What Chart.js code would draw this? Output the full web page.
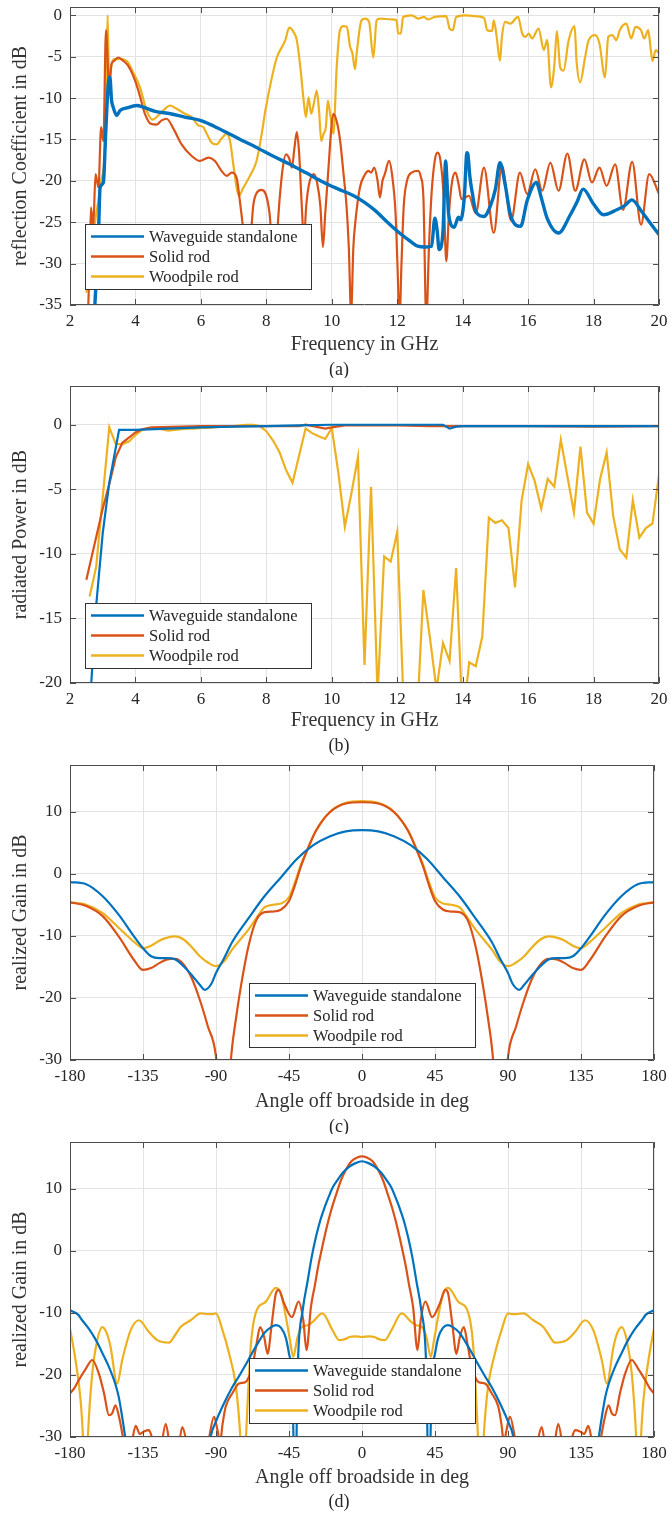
<!DOCTYPE html>
<html>
<head>
<meta charset="utf-8">
<script src="https://cdn.jsdelivr.net/npm/chart.js@4.4.0/dist/chart.umd.min.js"></script>
<style>
  body { margin: 0; background: #fff; width: 668px; }
  canvas { display: block; }
</style>
</head>
<body>
<canvas id="chartA" width="668" height="378"></canvas>
<canvas id="chartB" width="668" height="378"></canvas>
<canvas id="chartC" width="668" height="378"></canvas>
<canvas id="chartD" width="668" height="379"></canvas>
<script>
const seriesNames = ["Waveguide standalone", "Solid rod", "Woodpile rod"];

// tick labels
const freqTicks = [2, 4, 6, 8, 10, 12, 14, 16, 18, 20];
const reflTicks = [-35, -30, -25, -20, -15, -10, -5, 0];
const powerTicks = [-20, -15, -10, -5, 0];
const angleTicks = [-180, -135, -90, -45, 0, 45, 90, 135, 180];
const gainTicks = [-30, -20, -10, 0, 10];

/* ------------------------------
   (a) reflection coefficient, [GHz, dB]
------------------------------- */
const reflWaveguide = [[2.7,-40],[2.76,-35],[2.87,-26.5],[2.92,-20.8],[3.02,-20.2],[3.09,-14.3],[3.17,-8.3],[3.22,-7.5],[3.27,-10.3],[3.32,-11.1],[3.43,-12.1],[3.53,-11.5],[3.73,-11.2],[4.04,-10.9],[4.24,-11.1],[4.6,-11.6],[5.07,-11.9],[5.5,-12.3],[5.98,-12.7],[6.4,-13.4],[6.76,-14.1],[7.2,-15.0],[7.67,-15.9],[8.2,-17.0],[8.72,-18.0],[9.2,-19.0],[9.76,-20.2],[10.2,-21.0],[10.67,-21.8],[11.0,-22.6],[11.33,-23.6],[11.7,-25.0],[12.1,-26.4],[12.4,-27.3],[12.63,-27.9],[12.85,-28.0],[13.05,-27.9],[13.15,-24.5],[13.22,-26],[13.28,-28.3],[13.4,-26],[13.48,-17.6],[13.52,-20],[13.57,-24],[13.74,-25.6],[13.87,-24.4],[13.94,-24.7],[14.05,-22],[14.13,-16.6],[14.16,-16.8],[14.22,-19.5],[14.3,-21.6],[14.4,-23.7],[14.65,-24.3],[14.85,-23.0],[15.0,-21],[15.14,-17.8],[15.3,-20.5],[15.46,-24.1],[15.77,-25.5],[15.97,-22.4],[16.25,-20.2],[16.4,-22],[16.58,-24.5],[16.93,-26.3],[17.29,-24.1],[17.5,-22.5],[17.68,-21],[18.0,-22.8],[18.3,-24.1],[18.71,-23.5],[18.95,-23],[19.17,-22.3],[19.47,-23.7],[19.73,-25.1],[20,-26.5]];
const reflSolid = [[2.55,-36],[2.6,-30],[2.64,-23.2],[2.71,-25.6],[2.78,-19.2],[2.87,-20.8],[2.95,-13.5],[3.02,-15.2],[3.1,-1.8],[3.19,-8.3],[3.27,-5.9],[3.35,-5.5],[3.48,-5.1],[3.63,-5.5],[3.78,-6.1],[3.93,-7.3],[4.09,-9.1],[4.29,-11.9],[4.47,-13.1],[4.65,-13.2],[4.8,-12.7],[4.95,-12.5],[5.16,-13.7],[5.41,-15.6],[5.72,-17.0],[5.97,-17.6],[6.23,-17.2],[6.43,-17.6],[6.63,-18.8],[6.79,-19.4],[6.94,-19.0],[7.09,-19.6],[7.19,-22.4],[7.3,-26.1],[7.4,-30],[7.5,-28],[7.6,-23],[7.7,-21.5],[7.85,-21.1],[7.97,-21.5],[8.1,-24],[8.22,-30],[8.3,-28],[8.4,-22.5],[8.5,-18.5],[8.6,-16.8],[8.7,-17.3],[8.78,-18.4],[8.86,-16],[8.93,-14.1],[9.0,-16.5],[9.07,-22],[9.15,-27],[9.22,-23],[9.3,-20.5],[9.45,-19.2],[9.55,-20.2],[9.65,-23],[9.73,-28],[9.8,-24],[9.9,-18.4],[10.0,-13],[10.05,-11.9],[10.15,-12.8],[10.25,-15],[10.36,-19.2],[10.45,-23],[10.52,-28],[10.59,-36],[10.66,-28],[10.72,-25],[10.86,-20.8],[11.02,-19.2],[11.12,-18.8],[11.2,-19.0],[11.3,-18.4],[11.4,-20],[11.47,-22.0],[11.55,-20],[11.62,-19.2],[11.75,-17.6],[11.85,-19.5],[11.95,-24],[12.01,-30.5],[12.07,-37],[12.13,-30],[12.2,-23],[12.3,-20],[12.44,-19.0],[12.64,-18.8],[12.72,-19.5],[12.8,-22],[12.89,-37],[12.97,-28],[13.05,-21.5],[13.15,-17.5],[13.23,-16.6],[13.32,-17.5],[13.42,-22],[13.5,-29.7],[13.58,-24],[13.68,-20],[13.78,-19.0],[13.88,-20.5],[13.96,-22.2],[14.09,-22.0],[14.19,-21.8],[14.4,-23.9],[14.65,-18.4],[14.95,-26.3],[15.2,-18.2],[15.48,-24.8],[15.75,-19],[15.97,-21.6],[16.22,-18.6],[16.43,-21.2],[16.68,-17.8],[16.93,-21.2],[17.2,-16.7],[17.44,-21.2],[17.72,-17.4],[17.95,-20.2],[18.18,-18.4],[18.4,-20.6],[18.66,-18],[18.9,-23.5],[19.18,-17.7],[19.45,-25.3],[19.7,-19.2],[20,-21.6]];
const reflWoodpile = [[2.5,-33.5],[2.6,-31],[2.7,-27],[2.8,-24],[2.87,-22.4],[2.95,-20],[3.07,-16],[3.12,-6],[3.15,0],[3.2,-9.5],[3.27,-5.9],[3.37,-5.3],[3.53,-5.3],[3.73,-5.5],[3.93,-6.9],[4.14,-8.7],[4.34,-11.5],[4.52,-12.6],[4.7,-12.1],[4.9,-11.3],[5.05,-10.9],[5.26,-11.3],[5.51,-11.9],[5.72,-12.3],[5.92,-13.3],[6.07,-13.5],[6.18,-14.3],[6.33,-15.4],[6.48,-15.6],[6.63,-14.9],[6.79,-14.3],[6.89,-15.2],[6.99,-18],[7.09,-20.8],[7.16,-21.8],[7.3,-20.8],[7.5,-19.4],[7.7,-17.6],[7.86,-14.3],[7.97,-11.5],[8.17,-7.5],[8.32,-5.1],[8.48,-3.8],[8.58,-3.0],[8.7,-1.5],[8.83,-2.0],[8.93,-3.0],[9.04,-6.3],[9.14,-10.3],[9.21,-12.3],[9.29,-9.9],[9.37,-11.9],[9.47,-10.3],[9.54,-9.1],[9.61,-11.5],[9.68,-15.2],[9.75,-14.3],[9.82,-13.5],[9.88,-10.3],[9.95,-11.9],[10.05,-14.3],[10.15,-6.3],[10.25,-1.8],[10.36,-1.3],[10.46,-1.4],[10.56,-3.8],[10.63,-4.6],[10.71,-6.5],[10.76,-4.6],[10.91,-0.6],[11.02,-0.4],[11.14,-0.8],[11.27,-5.1],[11.37,-0.6],[11.47,-0.4],[11.83,-0.5],[11.98,-0.6],[12.03,-2.2],[12.11,-2.2],[12.18,-0.2],[12.44,0],[12.64,-0.4],[12.82,-0.2],[12.94,-0.5],[13.15,-0.2],[13.5,-0.1],[13.6,-1.6],[13.7,-1.8],[13.8,-0.2],[14.06,0],[14.35,-0.1],[14.65,-0.3],[14.75,-1.8],[14.9,-1.9],[14.95,-0.6],[15.04,-2.6],[15.14,-5.5],[15.2,-2.6],[15.3,-0.8],[15.46,-1.0],[15.69,-0.2],[15.82,-2.2],[15.92,-2.6],[16.02,-2.2],[16.12,-2.8],[16.32,-1.6],[16.48,-4.2],[16.58,-3.0],[16.7,-8.7],[16.8,-6.1],[16.88,-1.9],[16.98,-6.3],[17.08,-6.7],[17.24,-3.0],[17.42,-1.3],[17.48,-5.5],[17.59,-8.1],[17.74,-5.1],[17.85,-3.0],[18.05,-2.4],[18.18,-3.4],[18.35,-7.5],[18.45,-2.6],[18.57,-2.4],[18.7,-3.0],[18.8,-1.8],[19.0,-1.0],[19.15,-2.8],[19.28,-1.4],[19.45,-1.8],[19.55,-2.8],[19.67,-1.8],[19.75,-4.2],[19.8,-5.5],[19.9,-4.2],[20,-4.6]];

/* ------------------------------
   (b) radiated power, [GHz, dB]
------------------------------- */
const powerWaveguide = [[2.6,-22],[2.8,-14],[3.0,-8.4],[3.2,-4.5],[3.5,-0.4],[4,-0.4],[5,-0.3],[6,-0.2],[7,-0.15],[8,-0.1],[9,-0.05],[10,0],[11,0],[12,0],[13.4,0],[13.6,-0.3],[13.8,-0.15],[14,-0.1],[16,-0.1],[18,-0.1],[20,-0.1]];
const powerSolid = [[2.5,-12],[3.0,-6.5],[3.2,-4.6],[3.4,-2.5],[3.6,-1.4],[3.8,-1.0],[4.0,-0.6],[4.2,-0.35],[4.5,-0.2],[6,-0.1],[8,-0.1],[9,-0.1],[9.2,0],[9.8,-0.3],[10,-0.2],[10.4,-0.05],[12,-0.05],[13,-0.1],[14,-0.1],[16,-0.1],[18,-0.15],[20,-0.1]];
const powerWoodpile = [[2.6,-13.3],[2.8,-11],[3.2,-0.2],[3.4,-1.5],[3.6,-1.5],[3.8,-1.3],[4.0,-0.8],[4.2,-0.4],[4.4,-0.25],[4.6,-0.3],[4.8,-0.35],[5.0,-0.45],[5.2,-0.4],[5.4,-0.35],[5.6,-0.3],[5.8,-0.3],[6.0,-0.25],[6.2,-0.25],[6.4,-0.2],[6.6,-0.15],[6.8,-0.15],[7.0,-0.1],[7.2,-0.05],[7.4,0],[7.6,0],[7.8,-0.1],[8.0,-0.5],[8.2,-1.2],[8.4,-2.1],[8.6,-3.5],[8.8,-4.5],[9.0,-2.4],[9.2,-0.3],[9.4,-0.65],[9.6,-0.9],[9.8,-1.1],[10.0,-0.25],[10.2,-3.7],[10.4,-7.9],[10.6,-5.3],[10.8,-2.5],[11.0,-18.6],[11.2,-4.8],[11.4,-21],[11.6,-10.2],[11.8,-10.6],[12.0,-8.3],[12.2,-22],[12.4,-26],[12.6,-23],[12.8,-12.8],[13.0,-16.5],[13.2,-20.5],[13.4,-16.9],[13.6,-18.3],[13.8,-11.1],[14.0,-23],[14.2,-18.4],[14.4,-18.7],[14.6,-16.4],[14.8,-7.2],[15.0,-7.6],[15.2,-7.4],[15.4,-8.0],[15.6,-12.6],[15.8,-5.9],[16.0,-3.05],[16.2,-4.35],[16.4,-6.5],[16.6,-4.2],[16.8,-4.8],[17.0,-1.16],[17.2,-4.0],[17.4,-6.8],[17.6,-1.7],[17.8,-6.8],[18.0,-7.66],[18.2,-4.2],[18.4,-2.15],[18.6,-7.06],[18.8,-9.65],[19.0,-10.3],[19.2,-5.85],[19.4,-8.75],[19.6,-8.0],[19.8,-7.65],[20.0,-3.9]];

/* ------------------------------
   (c) realized gain, [deg, dB]
------------------------------- */
const gainCWaveguide = [[-180,-1.35],[-170,-1.7],[-160,-3.6],[-150,-6.6],[-140,-10.3],[-135,-12],[-130,-13.3],[-125,-13.6],[-120,-13.6],[-115,-13.8],[-110,-14.9],[-105,-16.3],[-100,-17.9],[-97,-18.7],[-93,-17.8],[-90,-16],[-85,-13.6],[-80,-11],[-70,-7.2],[-60,-3.6],[-50,-0.6],[-40,2.4],[-30,4.6],[-20,6.0],[-10,6.8],[0,7.0],[10,6.8],[20,6.0],[30,4.6],[40,2.4],[50,-0.6],[60,-3.6],[70,-7.2],[80,-11],[85,-13.6],[90,-16],[93,-17.8],[97,-18.7],[100,-17.9],[105,-16.3],[110,-14.9],[115,-13.8],[120,-13.6],[125,-13.6],[130,-13.3],[135,-12],[140,-10.3],[150,-6.6],[160,-3.6],[170,-1.7],[180,-1.35]];
const gainCSolid = [[-180,-4.6],[-170,-5.2],[-160,-6.8],[-150,-10.1],[-140,-14.1],[-135,-15.5],[-130,-15.2],[-125,-14.4],[-120,-13.8],[-115,-13.7],[-110,-14.6],[-105,-16.8],[-100,-20.3],[-95,-24.6],[-90,-29.5],[-87.5,-38],[-83,-38],[-80.5,-29],[-77.5,-23],[-75,-18.7],[-70,-11.7],[-65,-7.4],[-60,-6.2],[-55,-6.1],[-50,-5.8],[-45,-4.4],[-41.5,-2],[-37.6,1.2],[-33.6,3.9],[-28.4,6.9],[-20,9.85],[-10,11.3],[0,11.5],[10,11.3],[20,9.85],[28.4,6.9],[33.6,3.9],[37.6,1.2],[41.5,-2],[45,-4.4],[50,-5.8],[55,-6.1],[60,-6.2],[65,-7.4],[70,-11.7],[75,-18.7],[77.5,-23],[80.5,-29],[83,-38],[87.5,-38],[90,-29.5],[95,-24.6],[100,-20.3],[105,-16.8],[110,-14.6],[115,-13.7],[120,-13.8],[125,-14.4],[130,-15.2],[135,-15.5],[140,-14.1],[150,-10.1],[160,-6.8],[170,-5.2],[180,-4.6]];
const gainCWoodpile = [[-180,-4.6],[-170,-5.0],[-160,-6.3],[-150,-8.7],[-140,-11.1],[-135,-12.0],[-130,-11.6],[-125,-10.8],[-120,-10.3],[-115,-10.1],[-110,-10.6],[-105,-11.8],[-100,-13.3],[-95,-14.3],[-90,-14.9],[-85,-14.1],[-80,-12.2],[-75,-10.6],[-70,-9.0],[-65,-7.1],[-60,-5.4],[-55,-5.0],[-50,-4.8],[-45,-3.8],[-41.5,-1.5],[-37.6,1.5],[-33.6,3.9],[-28.4,6.9],[-20,9.9],[-10,11.4],[0,11.7],[10,11.4],[20,9.9],[28.4,6.9],[33.6,3.9],[37.6,1.5],[41.5,-1.5],[45,-3.8],[50,-4.8],[55,-5.0],[60,-5.4],[65,-7.1],[70,-9.0],[75,-10.6],[80,-12.2],[85,-14.1],[90,-14.9],[95,-14.3],[100,-13.3],[105,-11.8],[110,-10.6],[115,-10.1],[120,-10.3],[125,-10.8],[130,-11.6],[135,-12.0],[140,-11.1],[150,-8.7],[160,-6.3],[170,-5.0],[180,-4.6]];

/* ------------------------------
   (d) realized gain, [deg, dB]
------------------------------- */
const gainDWaveguide = [[-180,-9.6],[-175,-10.3],[-172.5,-11.2],[-168,-12.7],[-164,-14.4],[-160,-16.5],[-156,-18.7],[-152,-21.5],[-150,-23.5],[-148,-26.5],[-146,-30],[-143,-36],[-96,-36],[-93.3,-30],[-90,-27.5],[-86,-25.1],[-80,-22],[-76,-20.3],[-72,-18.5],[-68,-16.6],[-64,-14.8],[-60,-13.2],[-56,-12.3],[-53,-12.0],[-50,-12.4],[-47,-14],[-45,-16.6],[-43,-20.8],[-41.3,-40],[-39.5,-18],[-36.5,-9.5],[-33.6,-5],[-31,-1],[-28.4,2.2],[-25.7,4.9],[-23,7.0],[-20.5,8.7],[-18,10.2],[-15,11.4],[-12,12.5],[-8,13.5],[-4,14.1],[0,14.4],[4,14.1],[8,13.5],[12,12.5],[15,11.4],[18,10.2],[20.5,8.7],[23,7.0],[25.7,4.9],[28.4,2.2],[31,-1],[33.6,-5],[36.5,-9.5],[39.5,-18],[41.3,-40],[43,-20.8],[45,-16.6],[47,-14],[50,-12.4],[53,-12.0],[56,-12.3],[60,-13.2],[64,-14.8],[68,-16.6],[72,-18.5],[76,-20.3],[80,-22],[86,-25.1],[90,-27.5],[93.3,-30],[96,-36],[143,-36],[146,-30],[148,-26.5],[150,-23.5],[152,-21.5],[156,-18.7],[160,-16.5],[164,-14.4],[168,-12.7],[172.5,-11.2],[175,-10.3],[180,-9.6]];
const gainDSolid = [[-180,-23],[-177,-22],[-174.5,-20.8],[-170,-18.9],[-166.3,-17.6],[-162.2,-19.8],[-159,-23],[-156,-26.5],[-154,-26.2],[-152,-24.9],[-150,-26.5],[-147.4,-30],[-145,-34],[-142,-31],[-139.5,-28.2],[-137,-29.5],[-134.4,-29.1],[-131.3,-28.9],[-129,-30.5],[-125,-33],[-121,-27.9],[-118,-32],[-114,-33],[-110.8,-28.4],[-107,-32],[-100,-34],[-95,-31],[-91.2,-26.7],[-89,-29],[-87.5,-31],[-86,-28],[-84,-25.1],[-80,-23],[-75.8,-21.4],[-72,-21.2],[-70,-20.5],[-67.6,-18.7],[-65,-15],[-62.8,-12.3],[-60.3,-13.9],[-58.2,-16.6],[-55.6,-11.7],[-53.1,-6.9],[-51.4,-6.3],[-48,-8.5],[-43.2,-10.7],[-39.1,-8.2],[-36.2,-11.2],[-34.2,-16],[-31.5,-9.1],[-29,-5.5],[-27,-2.5],[-25,0],[-22,3.5],[-19,6.5],[-16,9.0],[-13,11.3],[-10,13.0],[-6.5,14.4],[-3,15.0],[0,15.2],[3,15.0],[6.5,14.4],[10,13.0],[13,11.3],[16,9.0],[19,6.5],[22,3.5],[25,0],[27,-2.5],[29,-5.5],[31.5,-9.1],[34.2,-16],[36.2,-11.2],[39.1,-8.2],[43.2,-10.7],[48,-8.5],[51.4,-6.3],[53.1,-6.9],[55.6,-11.7],[58.2,-16.6],[60.3,-13.9],[62.8,-12.3],[65,-15],[67.6,-18.7],[70,-20.5],[72,-21.2],[75.8,-21.4],[80,-23],[84,-25.1],[86,-28],[87.5,-31],[89,-29],[91.2,-26.7],[95,-31],[100,-34],[107,-32],[110.8,-28.4],[114,-33],[118,-32],[121,-27.9],[125,-33],[129,-30.5],[131.3,-28.9],[134.4,-29.1],[137,-29.5],[139.5,-28.2],[142,-31],[145,-34],[147.4,-30],[150,-26.5],[152,-24.9],[154,-26.2],[156,-26.5],[159,-23],[162.2,-19.8],[166.3,-17.6],[170,-18.9],[174.5,-20.8],[177,-22],[180,-23]];
const gainDWoodpile = [[-180,-12.5],[-176.6,-17.6],[-173.5,-24],[-172,-30],[-170.5,-40],[-169,-30],[-166.3,-19.8],[-163.2,-14.4],[-160.1,-12.3],[-157,-13.5],[-155,-15.5],[-150.9,-21.4],[-147.8,-17.6],[-142.6,-12.8],[-137.5,-11.2],[-131.3,-13.1],[-126.2,-14.4],[-119,-14.8],[-115,-13.5],[-111.8,-12.3],[-105.6,-11.2],[-99.4,-10.1],[-95,-10.2],[-92.2,-10.2],[-90,-10.1],[-86,-12.8],[-81.9,-16.6],[-77.7,-21.9],[-75,-30],[-73.2,-40],[-71.5,-30],[-68.6,-15.5],[-65.6,-10.1],[-59.3,-8.2],[-53.1,-6.0],[-50,-6.9],[-46.9,-10.7],[-44.4,-14.4],[-42.4,-17.1],[-39.7,-13.9],[-37,-12.3],[-33.5,-12.0],[-30.5,-11.5],[-24.4,-10.1],[-18.2,-12.8],[-14,-14.4],[-10,-14.2],[-7.8,-13.9],[-4,-13.8],[0,-13.9],[4,-13.8],[7.8,-13.9],[10,-14.2],[14,-14.4],[18.2,-12.8],[24.4,-10.1],[30.5,-11.5],[33.5,-12.0],[37,-12.3],[39.7,-13.9],[42.4,-17.1],[44.4,-14.4],[46.9,-10.7],[50,-6.9],[53.1,-6.0],[59.3,-8.2],[65.6,-10.1],[68.6,-15.5],[71.5,-30],[73.2,-40],[75,-30],[77.7,-21.9],[81.9,-16.6],[86,-12.8],[90,-10.1],[92.2,-10.2],[95,-10.2],[99.4,-10.1],[105.6,-11.2],[111.8,-12.3],[115,-13.5],[119,-14.8],[126.2,-14.4],[131.3,-13.1],[137.5,-11.2],[142.6,-12.8],[147.8,-17.6],[150.9,-21.4],[155,-15.5],[157,-13.5],[160.1,-12.3],[163.2,-14.4],[166.3,-19.8],[169,-30],[170.5,-40],[172,-30],[173.5,-24],[176.6,-17.6],[180,-12.5]];

/* ------------------------------
   MATLAB-like look
------------------------------- */
const FONT = "'Liberation Serif', 'Times New Roman', serif";
const TEXT = "#262626";
const COLORS = ["#0072BD", "#D95319", "#EDB120"];

const matlabLook = {
    id: "matlabLook",
    afterDatasetsDraw(chart, args, opts) {
        const { ctx, chartArea: a } = chart;
        const xs = chart.scales.x, ys = chart.scales.y;
        ctx.save();

        // box with ticks pointing inwards on all sides
        ctx.strokeStyle = "#4d4d4d";
        ctx.lineWidth = 1;
        ctx.beginPath();
        ctx.rect(a.left + 0.5, a.top + 0.5, a.width - 1, a.height - 1);
        xs.ticks.forEach(t => {
            const p = Math.round(xs.getPixelForValue(t.value)) + 0.5;
            ctx.moveTo(p, a.bottom); ctx.lineTo(p, a.bottom - 6);
            ctx.moveTo(p, a.top); ctx.lineTo(p, a.top + 6);
        });
        ys.ticks.forEach(t => {
            const p = Math.round(ys.getPixelForValue(t.value)) + 0.5;
            ctx.moveTo(a.left, p); ctx.lineTo(a.left + 6, p);
            ctx.moveTo(a.right, p); ctx.lineTo(a.right - 6, p);
        });
        ctx.stroke();

        // legend box
        const L = opts.legend;
        ctx.fillStyle = "#fff";
        ctx.fillRect(L.x, L.y, L.w, L.h);
        ctx.strokeStyle = "#333";
        ctx.strokeRect(L.x + 0.5, L.y + 0.5, L.w, L.h);
        ctx.font = "16.5px " + FONT;
        ctx.textBaseline = "middle";
        ctx.textAlign = "left";
        chart.data.datasets.forEach((ds, i) => {
            const yy = L.y + 12.5 + i * 20;
            ctx.strokeStyle = ds.borderColor;
            ctx.lineWidth = 2.5;
            ctx.beginPath();
            ctx.moveTo(L.x + 6, yy);
            ctx.lineTo(L.x + 59, yy);
            ctx.stroke();
            ctx.fillStyle = TEXT;
            ctx.fillText(ds.label, L.x + 64, yy + 1);
        });

        // caption
        ctx.font = "18px " + FONT;
        ctx.textAlign = "center";
        ctx.fillStyle = TEXT;
        ctx.fillText(opts.caption, 339, opts.captionY);
        ctx.restore();
    }
};

function panel(id, o) {
    const canvas = document.getElementById(id);
    const H = canvas.height;
    return new Chart(canvas, {
        type: "line",
        data: {
            datasets: o.series.map((pts, i) => ({
                label: seriesNames[i],
                data: pts.map(p => ({ x: p[0], y: p[1] })),
                borderColor: COLORS[i],
                borderWidth: o.widths[i],
                pointRadius: 0,
                tension: 0,
                cubicInterpolationMode: o.smooth ? "monotone" : "default",
                clip: 0
            }))
        },
        options: {
            responsive: false,
            animation: false,
            events: [],
            layout: { padding: { left: 0, top: o.top, right: 668 - o.right, bottom: 0 } },
            plugins: {
                legend: { display: false },
                tooltip: { enabled: false },
                matlabLook: { legend: o.legend, caption: o.caption, captionY: o.captionY }
            },
            scales: {
                x: {
                    type: "linear",
                    min: o.xMin, max: o.xMax,
                    afterBuildTicks: s => { s.ticks = o.xTicks.map(v => ({ value: v })); },
                    afterFit: s => { s.height = H - o.bottom; s.paddingLeft = 0; s.paddingRight = 0; },
                    grid: { color: "#e3e3e3", drawTicks: false },
                    border: { display: false },
                    ticks: { color: TEXT, font: { family: FONT, size: 17 }, padding: 6, maxRotation: 0, autoSkip: false },
                    title: { display: true, text: o.xTitle, color: "#333", font: { family: FONT, size: 20 }, padding: { top: 0, bottom: o.xTitlePad } }
                },
                y: {
                    type: "linear",
                    min: o.yMin, max: o.yMax,
                    afterBuildTicks: s => { s.ticks = o.yTicks.map(v => ({ value: v })); },
                    afterFit: s => { s.width = 70; s.paddingTop = 0; s.paddingBottom = 0; },
                    grid: { color: "#e3e3e3", drawTicks: false },
                    border: { display: false },
                    ticks: { color: TEXT, font: { family: FONT, size: 17 }, padding: 8 },
                    title: { display: true, text: o.yTitle, color: "#333", font: { family: FONT, size: 20 }, padding: { top: 9, bottom: 0 } }
                }
            }
        },
        plugins: [matlabLook]
    });
}

panel("chartA", {
    series: [reflWaveguide, reflSolid, reflWoodpile], widths: [3.4, 2.2, 2.2], smooth: true,
    xMin: 2, xMax: 20, yMin: -35, yMax: 1, xTicks: freqTicks, yTicks: reflTicks,
    top: 7, bottom: 305, right: 659,
    xTitle: "Frequency in GHz", yTitle: "reflection Coefficient in dB", xTitlePad: 21,
    legend: { x: 85, y: 224, w: 226, h: 65 }, caption: "(a)", captionY: 370
});

panel("chartB", {
    series: [powerWaveguide, powerSolid, powerWoodpile], widths: [2.2, 2.2, 2.2], smooth: false,
    xMin: 2, xMax: 20, yMin: -20, yMax: 3, xTicks: freqTicks, yTicks: powerTicks,
    top: 8, bottom: 305, right: 659,
    xTitle: "Frequency in GHz", yTitle: "radiated Power in dB", xTitlePad: 23,
    legend: { x: 85, y: 225, w: 226, h: 65 }, caption: "(b)", captionY: 368
});

panel("chartC", {
    series: [gainCWaveguide, gainCSolid, gainCWoodpile], widths: [2.2, 2.2, 2.2], smooth: true,
    xMin: -180, xMax: 180, yMin: -30, yMax: 17.5, xTicks: angleTicks, yTicks: gainTicks,
    top: 9, bottom: 304, right: 654,
    xTitle: "Angle off broadside in deg", yTitle: "realized Gain in dB", xTitlePad: 20,
    legend: { x: 249, y: 227, w: 226, h: 64 }, caption: "(c)", captionY: 371
});

panel("chartD", {
    series: [gainDWaveguide, gainDSolid, gainDWoodpile], widths: [2.2, 2.2, 2.2], smooth: true,
    xMin: -180, xMax: 180, yMin: -30, yMax: 17.5, xTicks: angleTicks, yTicks: gainTicks,
    top: 8, bottom: 303, right: 654,
    xTitle: "Angle off broadside in deg", yTitle: "realized Gain in dB", xTitlePad: 23,
    legend: { x: 249, y: 224, w: 226, h: 65 }, caption: "(d)", captionY: 368
});
</script>
</body>
</html>
